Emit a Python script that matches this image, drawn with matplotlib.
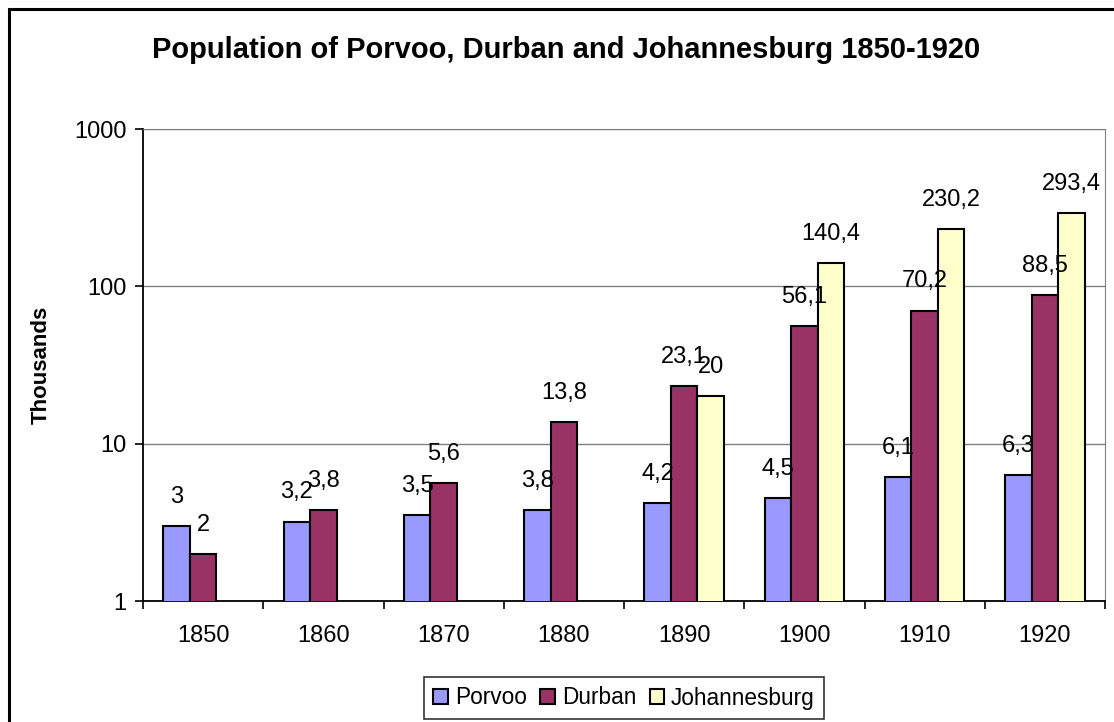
import matplotlib.pyplot as plt
import numpy as np
from matplotlib.patches import Rectangle

plt.rcParams['font.family'] = ['Liberation Sans', 'DejaVu Sans']

years = ['1850', '1860', '1870', '1880', '1890', '1900', '1910', '1920']
porvoo = [3, 3.2, 3.5, 3.8, 4.2, 4.5, 6.1, 6.3]
durban = [2, 3.8, 5.6, 13.8, 23.1, 56.1, 70.2, 88.5]
johannesburg = [None, None, None, None, 20, 140.4, 230.2, 293.4]

series = [('Porvoo', porvoo, '#9999FF'),
          ('Durban', durban, '#993366'),
          ('Johannesburg', johannesburg, '#FFFFCC')]

fig = plt.figure(figsize=(11.14, 7.22), dpi=100)
ax = fig.add_axes([143/1114, 1 - 601/722, (1105-143)/1114, (601-129)/722])

x = np.arange(len(years))
w = 0.22
for i, (name, vals, col) in enumerate(series):
    xs = [xi + (i - 1) * w for xi, v in zip(x, vals) if v is not None]
    vs = [v for v in vals if v is not None]
    ax.bar(xs, vs, width=w, color=col, edgecolor='black', linewidth=1.5, label=name, zorder=3)
    for xx, v in zip(xs, vs):
        ax.annotate(str(v).replace('.', ','), (xx, v), xytext=(0, 13), textcoords='offset points',
                    ha='center', va='bottom', fontsize=17, zorder=6)

ax.set_yscale('log')
ax.set_ylim(1, 1000)
ax.set_xlim(-0.5, len(years) - 0.5)
ax.set_yticks([1, 10, 100, 1000])
ax.set_yticklabels(['1', '10', '100', '1000'])
ax.yaxis.set_minor_locator(plt.NullLocator())
ax.set_xticks(x)
ax.set_xticklabels(years)
ax.set_xticks(np.arange(len(years) + 1) - 0.5, minor=True)
ax.tick_params(axis='x', which='major', length=0, pad=17, labelsize=17)
ax.tick_params(axis='x', which='minor', length=6, width=1.2)
ax.tick_params(axis='y', length=6, width=1.2, labelsize=17, pad=6)
ax.grid(axis='y', which='major', color='#808080', linewidth=1, zorder=0)

ax.spines['left'].set_linewidth(1.3)
ax.spines['bottom'].set_linewidth(1.3)
ax.spines['right'].set_color('#808080')
ax.spines['top'].set_color('#808080')

ax.set_ylabel('Thousands', fontsize=16, fontweight='bold', labelpad=16)
fig.text(0.508, 1 - 50/722, 'Population of Porvoo, Durban and Johannesburg 1850-1920',
         ha='center', va='center', fontsize=21, fontweight='bold')

leg = fig.legend(loc='center', bbox_to_anchor=(624/1114, 1 - 698/722), ncol=3, fontsize=16.3,
                 frameon=True, fancybox=False, edgecolor='black', handlelength=0.65,
                 handleheight=0.65, handletextpad=0.3, columnspacing=0.6, borderpad=0.4)
leg.get_frame().set_linewidth(1.2)

fig.patches.append(Rectangle((9/1114, -0.1), 1.2, 1 - 9/722 + 0.1, transform=fig.transFigure,
                             fill=False, edgecolor='black', linewidth=2.2))

fig.savefig('out.png', dpi=100)
